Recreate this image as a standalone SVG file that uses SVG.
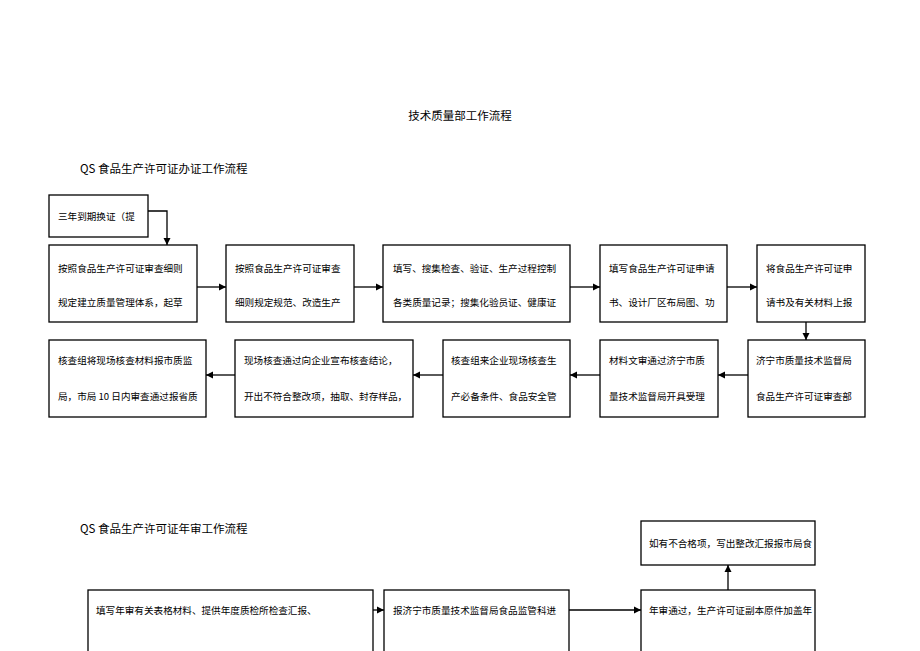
<svg xmlns="http://www.w3.org/2000/svg" width="920" height="651" viewBox="0 0 920 651">
<style>
.b{fill:#fff;stroke:#000;stroke-width:1.3}
.t{font-family:"Noto Sans CJK SC",sans-serif;font-size:9.6px;fill:#000}
.h{font-family:"Noto Sans CJK SC",sans-serif;font-size:11.5px;fill:#000}
.c{stroke:#000;stroke-width:1.3;fill:none;marker-end:url(#a)}
</style>
<defs><marker id="a" markerWidth="8" markerHeight="8" refX="7" refY="4" orient="auto" markerUnits="userSpaceOnUse"><path d="M0,0.5L7,4L0,7.5z" fill="#000"/></marker></defs>
<rect width="920" height="651" fill="#fff"/>
<text class="h" x="460" y="120" text-anchor="middle">技术质量部工作流程</text>
<text class="h" x="80" y="173">QS 食品生产许可证办证工作流程</text>
<text class="h" x="80" y="533">QS 食品生产许可证年审工作流程</text>
<g id="n0"><rect class="b" x="49" y="195" width="99" height="42"/><text class="t" x="58" y="220">三年到期换证（提</text></g>
<g id="n1"><rect class="b" x="49" y="245" width="148" height="77"/><text class="t" x="58" y="272">按照食品生产许可证审查细则</text><text class="t" x="58" y="306">规定建立质量管理体系，起草</text></g>
<g id="n2"><rect class="b" x="226" y="245" width="128" height="77"/><text class="t" x="235" y="272">按照食品生产许可证审查</text><text class="t" x="235" y="306">细则规定规范、改造生产</text></g>
<g id="n3"><rect class="b" x="383" y="245" width="187" height="77"/><text class="t" x="393" y="272">填写、搜集检查、验证、生产过程控制</text><text class="t" x="393" y="306">各类质量记录；搜集化验员证、健康证</text></g>
<g id="n4"><rect class="b" x="600" y="245" width="127" height="77"/><text class="t" x="609" y="272">填写食品生产许可证申请</text><text class="t" x="609" y="306">书、设计厂区布局图、功</text></g>
<g id="n5"><rect class="b" x="757" y="245" width="108" height="77"/><text class="t" x="766" y="272">将食品生产许可证申</text><text class="t" x="766" y="306">请书及有关材料上报</text></g>
<g id="n6"><rect class="b" x="748" y="340" width="117" height="77"/><text class="t" x="756" y="364">济宁市质量技术监督局</text><text class="t" x="756" y="400">食品生产许可证审查部</text></g>
<g id="n7"><rect class="b" x="600" y="340" width="118" height="77"/><text class="t" x="609" y="364">材料文审通过济宁市质</text><text class="t" x="609" y="400">量技术监督局开具受理</text></g>
<g id="n8"><rect class="b" x="443" y="340" width="127" height="77"/><text class="t" x="451" y="364">核查组来企业现场核查生</text><text class="t" x="451" y="400">产必备条件、食品安全管</text></g>
<g id="n9"><rect class="b" x="235" y="340" width="178" height="77"/><text class="t" x="244" y="364">现场核查通过向企业宣布核查结论，</text><text class="t" x="244" y="400">开出不符合整改项，抽取、封存样品，</text></g>
<g id="n10"><rect class="b" x="49" y="340" width="157" height="77"/><text class="t" x="58" y="364">核查组将现场核查材料报市质监</text><text class="t" x="58" y="400">局，市局 10 日内审查通过报省质</text></g>
<g id="m1"><rect class="b" x="88" y="590" width="285" height="70"/><text class="t" x="96" y="614">填写年审有关表格材料、提供年度质检所检查汇报、</text></g>
<g id="m2"><rect class="b" x="384" y="590" width="185" height="70"/><text class="t" x="393" y="614">报济宁市质量技术监督局食品监管科进</text></g>
<g id="m3"><rect class="b" x="641" y="590" width="174" height="70"/><text class="t" x="649" y="614">年审通过，生产许可证副本原件加盖年</text></g>
<g id="m4"><rect class="b" x="641" y="521" width="174" height="44"/><text class="t" x="649" y="547">如有不合格项，写出整改汇报报市局食</text></g>
<g id="connectors">
<path class="c" d="M148,211H167V245"/>
<path class="c" d="M197,287H226"/>
<path class="c" d="M354,287H383"/>
<path class="c" d="M570,287H600"/>
<path class="c" d="M727,287H757"/>
<path class="c" d="M806,322V340"/>
<path class="c" d="M748,375H718"/>
<path class="c" d="M600,375H570"/>
<path class="c" d="M443,375H413"/>
<path class="c" d="M235,375H206"/>
<path class="c" d="M373,610H384"/>
<path class="c" d="M569,610H641"/>
<path class="c" d="M728,590V565"/>
</g>
</svg>
